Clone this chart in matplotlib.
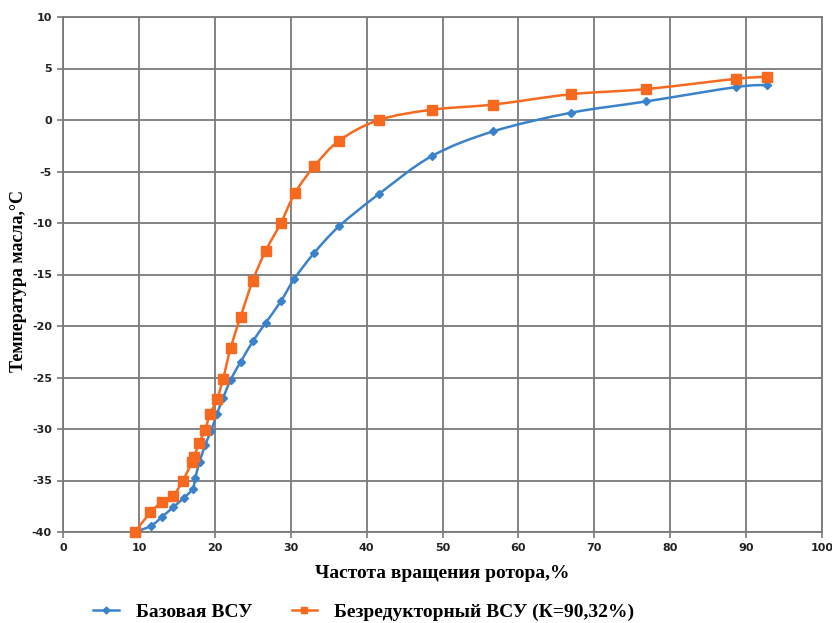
import matplotlib
matplotlib.use("Agg")
import matplotlib.pyplot as plt
from matplotlib.path import Path
from matplotlib.patches import PathPatch
from matplotlib.lines import Line2D

plt.rcParams["axes.unicode_minus"] = False

# ---- data ----
x_base = [9.5, 11.6, 13.1, 14.5, 15.9, 17.1, 17.4, 18.0, 18.7, 19.5, 20.3, 21.1,
          22.1, 23.4, 25.0, 26.7, 28.7, 30.5, 33.1, 36.4, 41.6, 48.6, 56.7, 66.9,
          76.8, 88.7, 92.8]
t_base = [-40.0, -39.4, -38.5, -37.6, -36.7, -35.8, -34.8, -33.2, -31.6, -30.2, -28.5, -27.0,
          -25.2, -23.5, -21.5, -19.7, -17.6, -15.4, -12.9, -10.3, -7.2, -3.5, -1.1, 0.7,
          1.8, 3.2, 3.4]

x_new = [9.5, 11.5, 13.1, 14.5, 15.8, 17.0, 17.3, 17.9, 18.7, 19.4, 20.3, 21.1,
         22.1, 23.4, 25.0, 26.7, 28.7, 30.6, 33.1, 36.4, 41.6, 48.6, 56.7, 66.9,
         76.8, 88.7, 92.8]
t_new = [-40.0, -38.1, -37.05, -36.5, -35.0, -33.2, -32.7, -31.4, -30.1, -28.5, -27.1, -25.1,
         -22.1, -19.1, -15.6, -12.7, -10.0, -7.05, -4.5, -2.0, 0.0, 1.0, 1.5, 2.5,
         3.0, 4.0, 4.2]

lbl_base = "Базовая ВСУ"
lbl_new = "Безредукторный ВСУ (К=90,32%)"

BLUE = "#3a83cc"
ORANGE = "#f7691e"
GRID = "#7a7a7a"


def smooth_path(xs, ys):
    # excel-like smoothed line: cubic bezier with catmull-rom control points
    verts = [(xs[0], ys[0])]
    codes = [Path.MOVETO]
    n = len(xs)
    for i in range(n - 1):
        x0, y0 = (xs[i - 1], ys[i - 1]) if i > 0 else (xs[i], ys[i])
        x3, y3 = (xs[i + 2], ys[i + 2]) if i + 2 < n else (xs[i + 1], ys[i + 1])
        c1 = (xs[i] + (xs[i + 1] - x0) / 6, ys[i] + (ys[i + 1] - y0) / 6)
        c2 = (xs[i + 1] - (x3 - xs[i]) / 6, ys[i + 1] - (y3 - ys[i]) / 6)
        verts += [c1, c2, (xs[i + 1], ys[i + 1])]
        codes += [Path.CURVE4] * 3
    return Path(verts, codes)


fig = plt.figure(figsize=(8.32, 6.23), dpi=100)
ax = fig.add_axes([63 / 832, 1 - 532 / 623, 759 / 832, 515 / 623])

ax.add_patch(PathPatch(smooth_path(x_base, t_base), fc="none", ec=BLUE, lw=1.8, zorder=3))
ax.add_patch(PathPatch(smooth_path(x_new, t_new), fc="none", ec=ORANGE, lw=1.8, zorder=3))
ax.plot(x_base, t_base, ls="none", marker="D", ms=4.2, color=BLUE, zorder=4, clip_on=False)
ax.plot(x_new, t_new, ls="none", marker="s", ms=6.5, color=ORANGE, zorder=4, clip_on=False)

ax.set_xlim(0, 100)
ax.set_ylim(-40, 10)
ax.set_xticks(range(0, 101, 10))
ax.set_yticks(range(-40, 11, 5))
ax.grid(True, color=GRID, lw=1.3)
ax.set_axisbelow(True)
for s in ax.spines.values():
    s.set_color(GRID)
    s.set_linewidth(1.3)
ax.tick_params(length=4, width=1.2, color=GRID, pad=4, labelsize=8, labelcolor="#222222")
for lab in ax.get_xticklabels() + ax.get_yticklabels():
    lab.set_fontweight("bold")

serif = {"family": "Liberation Serif", "weight": "bold"}
fig.text(442 / 832, 1 - 573 / 623, "Частота вращения ротора,%", ha="center", va="center",
         fontsize=14, **serif)
fig.text(19 / 832, 1 - 281 / 623, "Температура масла,°C", ha="center", va="center",
         rotation=90, fontsize=13, **serif)

handles = [Line2D([], [], color=BLUE, lw=1.8, marker="D", ms=3.5),
           Line2D([], [], color=ORANGE, lw=1.8, marker="s", ms=5)]
fig.legend(handles, [lbl_base, lbl_new], loc="center", bbox_to_anchor=(364 / 832, 1 - 612 / 623),
           ncol=2, frameon=False, handlelength=1.3, handletextpad=0.9, columnspacing=2.0,
           prop={"family": "Liberation Serif", "weight": "bold", "size": 14})

fig.savefig("out.png", dpi=100)
